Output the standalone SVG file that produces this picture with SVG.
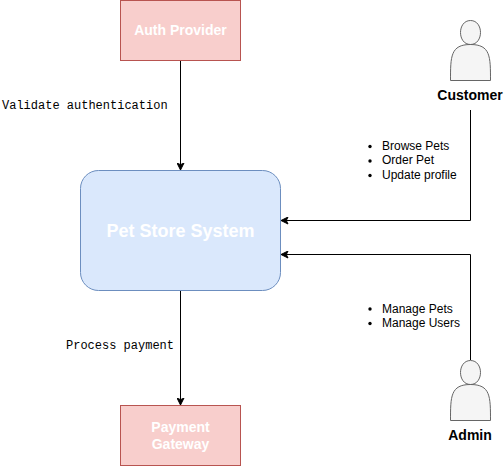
<svg xmlns="http://www.w3.org/2000/svg" width="504" height="467" viewBox="0 0 504 467">
<style>
.ext{fill:#f8cecc;stroke:#b85450;stroke-width:1}
.sys{fill:#dae8fc;stroke:#6c8ebf;stroke-width:1}
.actor{fill:#f5f5f5;stroke:#666;stroke-width:1}
.w{font-family:"Liberation Sans",Arial,sans-serif;font-weight:700;fill:#fff;text-anchor:middle}
.name{font-family:"Liberation Sans",Arial,sans-serif;font-weight:700;font-size:14px;fill:#000;text-anchor:middle}
.mono{font-family:"Liberation Mono","Courier New",monospace;font-size:12px;fill:#000}
.li{font-family:"Liberation Sans",Arial,sans-serif;font-size:12px;fill:#000}
.conn{fill:none;stroke:#000;stroke-width:1}
</style>
<defs>
<marker id="arrow" viewBox="0 0 8 8" refX="7.5" refY="4" markerWidth="8" markerHeight="8" markerUnits="userSpaceOnUse" orient="auto">
<path d="M0.500 0.500L7.500 4L0.500 7.500L2.200 4Z" fill="#000" stroke="#000" stroke-width="1"/>
</marker>
<path id="person" class="actor" d="M0 60C0 36 0 24 20 24C6.670 24 6.670 0 20 0C33.330 0 33.330 24 20 24C40 24 40 36 40 60Z"/>
</defs>
<g id="connectors">
<path class="conn" marker-end="url(#arrow)" d="M180.500 60.500V170"/>
<path class="conn" marker-end="url(#arrow)" d="M180.500 290.500V405"/>
<path class="conn" marker-end="url(#arrow)" d="M470.500 110V220.500H281"/>
<path class="conn" marker-end="url(#arrow)" d="M470.500 360V254.500H281"/>
</g>
<g id="auth-provider">
<rect class="ext" x="120.500" y="0.500" width="120" height="60"/>
<text class="w" x="180.500" y="35" font-size="14">Auth Provider</text>
</g>
<g id="pet-store-system">
<rect class="sys" x="80.500" y="170.500" width="200" height="120" rx="18" ry="18"/>
<text class="w" x="180.500" y="237" font-size="18">Pet Store System</text>
</g>
<g id="payment-gateway">
<rect class="ext" x="120.500" y="405.500" width="120" height="60"/>
<text class="w" x="180.500" y="432" font-size="14">Payment</text>
<text class="w" x="180.500" y="449" font-size="14">Gateway</text>
</g>
<g id="customer">
<use href="#person" x="450.500" y="20.500"/>
<text class="name" x="470" y="100">Customer</text>
</g>
<g id="admin">
<use href="#person" x="450.500" y="360.500"/>
<text class="name" x="470" y="440">Admin</text>
</g>
<g id="labels">
<text class="mono" x="2" y="109">Validate authentication</text>
<text class="mono" x="66" y="349">Process payment</text>
<circle cx="370" cy="146.500" r="1.700"/><text class="li" x="382" y="150">Browse Pets</text>
<circle cx="370" cy="161" r="1.700"/><text class="li" x="382" y="164">Order Pet</text>
<circle cx="370" cy="175.500" r="1.700"/><text class="li" x="382" y="179">Update profile</text>
<circle cx="370" cy="309" r="1.700"/><text class="li" x="382" y="313">Manage Pets</text>
<circle cx="370" cy="323.500" r="1.700"/><text class="li" x="382" y="327">Manage Users</text>
</g>
</svg>
